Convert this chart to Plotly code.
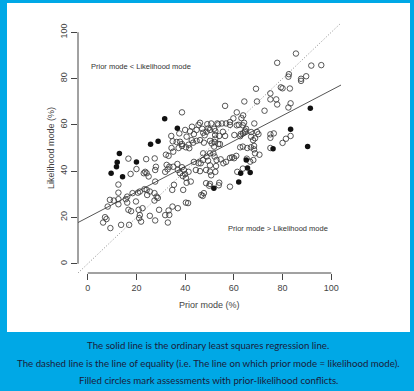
import numpy as np
import plotly.graph_objects as go

# ---------------- data ----------------
prior_open = [
    6.3, 7.1, 7.7, 9.3, 8.2, 9.1, 10.7, 12.6, 12.6, 12.6, 12.6, 13.7, 17.0, 16.7, 17.8, 15.6, 16.2, 16.2, 18.4, 16.7, 17.6, 19.8,
    20.0, 20.6, 21.4, 21.4, 21.1, 21.9, 20.9, 22.5, 23.3, 24.2, 25.5, 24.4, 23.6, 23.0, 24.2, 25.0, 27.7, 24.0, 27.5, 28.0, 27.7,
    27.4, 28.3, 28.8, 27.4, 27.7, 25.5, 29.3,
    31.8, 32.8, 33.5, 32.4, 35.1, 36.8, 37.0, 37.9, 38.7, 39.5, 32.1, 33.2, 34.4, 37.3, 38.7, 40.3, 41.7, 35.1, 35.4, 34.7, 40.6,
    42.3, 40.3, 39.2, 41.2, 40.3, 37.0, 33.2, 33.5, 31.8, 32.9, 34.8, 34.3, 37.6, 40.0, 38.7, 37.9, 40.6, 34.9, 36.5, 38.7, 40.0,
    39.0, 41.4,
    42.8, 45.5, 47.0, 48.8, 46.1, 49.1, 42.0, 43.6, 44.7, 47.4, 41.4, 43.3, 44.7, 42.7, 45.5, 43.6, 47.4, 49.4, 44.4, 46.1, 48.6,
    46.6, 47.2, 47.7, 48.6, 47.4, 48.8, 46.4, 46.1, 47.7, 48.0, 49.5,
    50.2, 51.9, 53.6, 50.7, 53.2, 55.1, 56.8, 58.4, 52.4, 52.3, 52.4, 54.0, 56.4, 50.2, 50.9, 51.9, 53.6, 52.1, 54.3, 50.2, 51.6,
    52.1, 52.9, 54.6, 55.7, 52.7, 50.2, 50.2, 52.4, 50.7, 50.2, 49.9, 53.8, 54.0, 56.8, 58.4, 59.3, 56.4, 58.4, 55.5, 58.4,
    60.1, 61.0, 61.2, 63.8, 59.8, 63.1, 64.2, 62.0, 63.7, 61.2, 65.0, 62.8, 60.2, 63.7, 62.6, 64.5, 62.6, 63.7, 67.0, 68.3, 68.3,
    70.5, 65.3, 68.0, 66.7, 63.7, 61.4, 64.3, 69.5, 68.4, 64.6, 67.1, 69.5, 70.1, 67.1, 68.7, 67.9, 65.5, 68.7, 69.1,
    72.6, 75.0, 75.0, 77.4, 77.8, 83.3, 82.4, 79.3, 80.0, 83.0, 82.6, 82.4, 89.7, 87.6, 87.6, 85.5, 77.8, 91.8, 95.9, 76.4, 75.0,
    75.0, 83.3, 81.4, 80.0, 75.0,
]
likelihood_open = [
    17.8, 20.1, 19.3, 15.4, 24.7, 27.6, 27.3, 27.9, 25.7, 30.7, 34.2, 16.8, 16.8, 23.3, 22.7, 27.9, 26.4, 29.0, 30.5, 45.4, 38.8, 26.9,
    40.9, 30.7, 31.2, 21.0, 19.7, 18.2, 23.3, 24.0, 32.2, 31.9, 31.2, 29.7, 39.7, 39.1, 39.1, 37.7, 35.5, 45.2, 45.5, 41.9, 40.5,
    30.5, 29.0, 28.4, 27.3, 18.7, 20.7, 23.3,
    39.7, 40.8, 41.9, 42.7, 41.9, 43.1, 40.5, 39.1, 41.7, 40.5, 47.1, 46.6, 50.0, 50.0, 50.9, 50.3, 49.9, 48.4, 34.1, 31.9, 35.0,
    35.5, 37.1, 31.9, 26.2, 26.4, 24.0, 23.0, 21.1, 21.0, 17.8, 24.7, 55.2, 56.3, 57.8, 65.4, 52.7, 54.9, 52.9, 52.6, 51.7, 38.7,
    37.9, 39.7,
    59.2, 60.0, 58.3, 57.0, 60.9, 60.3, 57.2, 56.0, 57.8, 56.6, 51.4, 52.3, 53.1, 53.4, 43.4, 44.0, 44.8, 44.5, 40.5, 40.0, 40.5,
    29.7, 29.3, 30.5, 34.8, 47.7, 46.3, 43.4, 53.4, 52.3, 55.5, 58.5,
    57.8, 58.3, 60.2, 60.6, 60.6, 60.6, 60.6, 61.2, 57.3, 55.6, 54.0, 55.2, 55.2, 53.1, 52.0, 50.6, 51.7, 52.6, 51.7, 47.7, 47.7,
    46.3, 44.8, 45.1, 43.4, 42.2, 42.5, 39.8, 39.7, 38.2, 34.5, 33.7, 33.9, 35.0, 44.0, 45.7, 46.0, 68.2, 33.3, 57.0, 60.0,
    45.6, 46.6, 65.4, 64.1, 62.8, 62.9, 60.9, 60.0, 59.8, 59.8, 58.3, 56.0, 55.6, 56.3, 55.1, 56.9, 50.3, 50.6, 50.3, 50.9, 49.4,
    47.1, 45.4, 44.8, 44.1, 41.1, 39.7, 70.1, 70.1, 60.6, 57.5, 56.9, 56.9, 56.0, 54.9, 54.2, 53.4, 50.0, 47.7, 75.6,
    66.1, 73.6, 71.0, 71.0, 68.8, 69.3, 67.5, 76.2, 75.8, 75.7, 81.9, 80.8, 81.0, 79.9, 79.0, 90.8, 86.8, 85.6, 85.8, 56.3, 55.9,
    54.4, 55.2, 54.0, 52.2, 50.0,
]
prior_conflict = [9.6, 12.1, 13.0, 11.8, 14.3, 20.0, 25.8, 28.9, 31.6, 36.8, 51.8, 62.0, 62.8, 66.7, 65.6, 65.1, 76.1, 90.3, 83.3, 91.4]
likelihood_conflict = [39.1, 43.8, 47.6, 41.9, 37.6, 44.0, 51.6, 52.9, 62.6, 58.5, 32.6, 35.3, 39.1, 39.4, 41.4, 44.8, 49.7, 50.6, 58.1, 67.2]

ols_intercept = 20.0
ols_slope = 0.55

tick_values = [0, 20, 40, 60, 80, 100]
tick_labels = ["0", "20", "40", "60", "80", "100"]
axis_range = [-4, 104]

label_upper = "Prior mode < Likelihood mode"
label_lower = "Prior mode > Likelihood mode"
upper_pos = (22, 85)
lower_pos = (78, 15.2)

caption_lines = [
    "The solid line is the ordinary least squares regression line.",
    "The dashed line is the line of equality (i.e. The line on which prior mode = likelihood mode).",
    "Filled circles mark assessments with prior-likelihood conflicts.",
]

# ---------------- figure ----------------
W, H = 414, 391
ML, MR, MT, MB = 78, 73, 23, 118
PW, PH = W - ML - MR, H - MT - MB


def px(x):
    return (x - ML) / PW


def py(y):
    return (H - MB - y) / PH


BLUE = "#00A8E6"
INK = "#444444"
SANS = "Liberation Sans"

fig = go.Figure()

xr = np.array(axis_range, dtype=float)
fig.add_trace(go.Scatter(x=xr, y=xr, mode="lines",
                         line=dict(color="#8a8a8a", width=1, dash="1px,2px"),
                         hoverinfo="skip", showlegend=False))
fig.add_trace(go.Scatter(x=xr, y=ols_intercept + ols_slope * xr, mode="lines",
                         line=dict(color="#555555", width=1),
                         hoverinfo="skip", showlegend=False))
fig.add_trace(go.Scatter(x=prior_open, y=likelihood_open, mode="markers",
                         marker=dict(symbol="circle-open", size=5.5, color="#3a3a3a",
                                     line=dict(width=0.85)),
                         showlegend=False))
fig.add_trace(go.Scatter(x=prior_conflict, y=likelihood_conflict, mode="markers",
                         marker=dict(symbol="circle", size=5.5, color="#111111"),
                         showlegend=False))

axis_common = dict(range=axis_range, showgrid=False, zeroline=False, showline=False,
                   tickmode="array", tickvals=tick_values, ticktext=tick_labels,
                   ticks="outside", ticklen=6, tickwidth=1, tickcolor=INK,
                   tickfont=dict(family=SANS, size=9, color=INK))
fig.update_xaxes(**axis_common)
fig.update_yaxes(**axis_common, tickangle=-90)

shapes = [
    # white panel
    dict(type="rect", xref="paper", yref="paper", x0=px(7), x1=px(410), y0=py(332), y1=py(3),
         fillcolor="white", line=dict(width=0), layer="below"),
    # R-style axis lines spanning the tick range only
    dict(type="line", xref="x", yref="paper", x0=tick_values[0], x1=tick_values[-1], y0=0, y1=0,
         line=dict(color=INK, width=1)),
    dict(type="line", xref="paper", yref="y", x0=0, x1=0, y0=tick_values[0], y1=tick_values[-1],
         line=dict(color=INK, width=1)),
]

annotations = [
    dict(x=upper_pos[0], y=upper_pos[1], xref="x", yref="y", text=label_upper, showarrow=False,
         font=dict(family=SANS, size=7.5, color="#333333")),
    dict(x=lower_pos[0], y=lower_pos[1], xref="x", yref="y", text=label_lower, showarrow=False,
         font=dict(family=SANS, size=7.5, color="#333333")),
    dict(x=0.5, y=py(312), xref="paper", yref="paper", text="Prior mode (%)", showarrow=False,
         font=dict(family=SANS, size=9, color=INK)),
    dict(x=px(44), y=0.5, xref="paper", yref="paper", text="Likelihood mode (%)", showarrow=False,
         textangle=-90, font=dict(family=SANS, size=9, color=INK)),
]
for line, ypix in zip(caption_lines, [345, 363, 380]):
    annotations.append(dict(x=px(208), y=py(ypix), xref="paper", yref="paper", text=line,
                            showarrow=False, xanchor="center", yanchor="middle",
                            font=dict(family="Lato", size=9.7, color="#1b1b3a")))

fig.update_layout(width=W, height=H, margin=dict(l=ML, r=MR, t=MT, b=MB, pad=0),
                  paper_bgcolor=BLUE, plot_bgcolor="white",
                  shapes=shapes, annotations=annotations, showlegend=False)

fig.write_html("out.html", config={"displayModeBar": False},
               post_script="document.body.style.margin='0';document.body.style.overflow='hidden';")
